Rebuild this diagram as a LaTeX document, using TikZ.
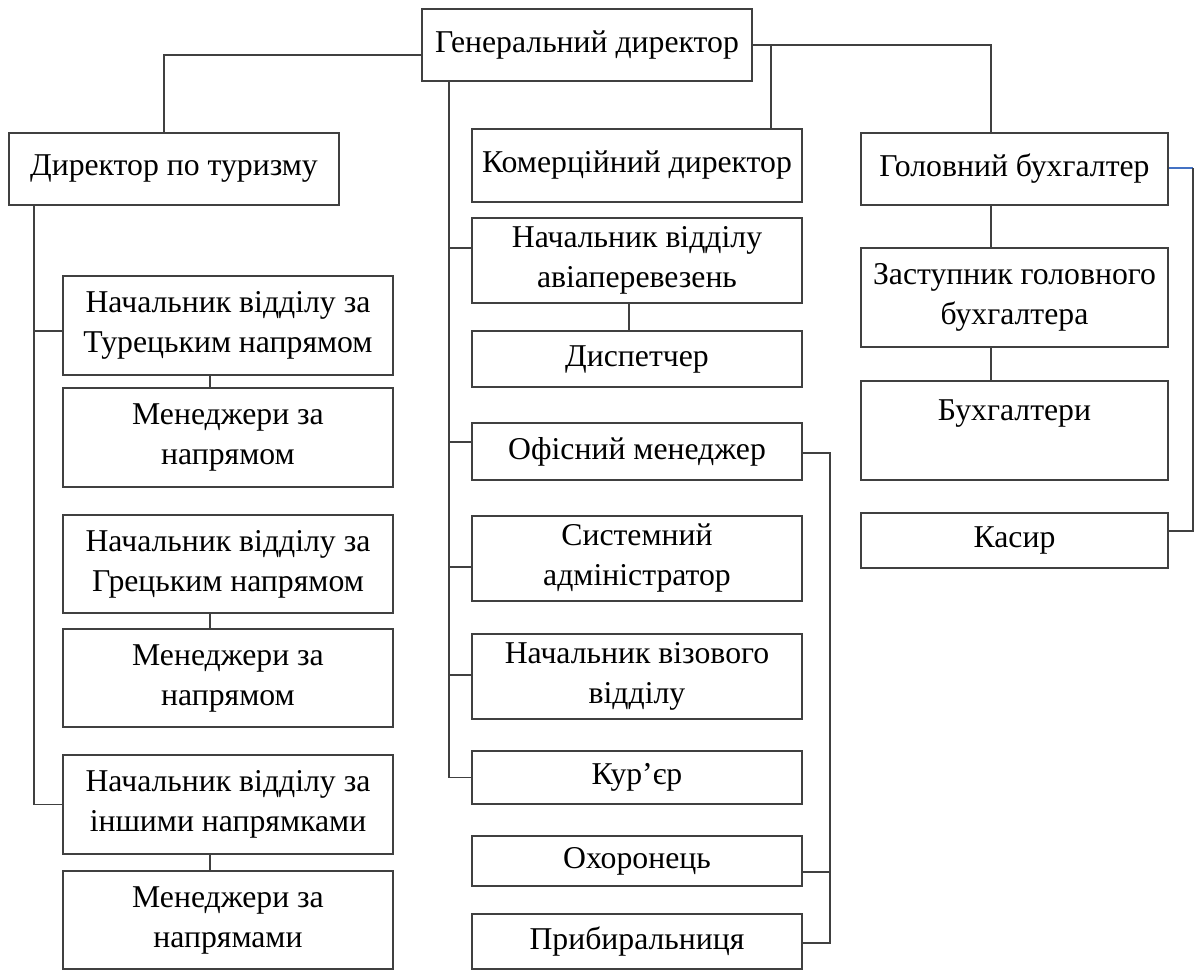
\documentclass[tikz,border=0pt]{standalone}
\usepackage{fontspec}
\setmainfont{Liberation Serif}
\definecolor{linkblue}{RGB}{68,114,196}
\begin{document}
\begin{tikzpicture}[x=0.75pt,y=-0.75pt,
  post/.style={draw=black!75, line width=1.4pt, fill=white, align=center,
    inner sep=0pt, minimum width=247.5pt, font=\fontsize{23.8}{30}\selectfont},
  acc/.style={post, minimum width=230.25pt},
  link/.style={draw=black!75, line width=1.4pt}]
\useasboundingbox (0,0) rectangle (1200,971);
% top
\node[post, minimum height=54pt] (gen) at (587,45) {Генеральний директор};
\node[post, minimum height=54pt] (tour) at (174,169) {Директор по туризму};
\node[post, minimum height=54.75pt] (kom) at (637,165.5) {Комерційний директор};
\node[acc, minimum height=54pt] (chief) at (1014.5,169) {Головний бухгалтер};
% tourism
\node[post, minimum height=74.25pt] (turk) at (228,325.5) {Начальник відділу за\\Турецьким напрямом};
\node[post, minimum height=74.25pt] (mgrA) at (228,437.5) {Менеджери за\\напрямом};
\node[post, minimum height=73.5pt] (greek) at (228,564) {Начальник відділу за\\Грецьким напрямом};
\node[post, minimum height=73.5pt] (mgrB) at (228,678) {Менеджери за\\напрямом};
\node[post, minimum height=74.25pt] (other) at (228,804.5) {Начальник відділу за\\іншими напрямками};
\node[post, minimum height=73.5pt] (mgrC) at (228,920) {Менеджери за\\напрямами};
% middle column
\node[post, minimum height=63.75pt] (avia) at (637,260.5) {Начальник відділу\\авіаперевезень};
\node[post, minimum height=42pt] (disp) at (637,359) {Диспетчер};
\node[post, minimum height=42.75pt] (office) at (637,451.5) {Офісний менеджер};
\node[post, minimum height=63.75pt] (sysadm) at (637,558.5) {Системний\\адміністратор};
\node[post, minimum height=63.75pt] (visa) at (637,676.5) {Начальник візового\\відділу};
\node[post, minimum height=39.75pt] (courier) at (637,777.5) {Кур’єр};
\node[post, minimum height=37.5pt] (guard) at (637,861) {Охоронець};
\node[post, minimum height=41.25pt] (clean) at (637,941.5) {Прибиральниця};
% accounting
\node[acc, minimum height=74.25pt] (deputy) at (1014.5,297.5) {Заступник головного\\бухгалтера};
\node[acc, minimum height=74.25pt] (accts) at (1014.5,430.5) {Бухгалтери\\~};
\node[acc, minimum height=41.25pt] (cash) at (1014.5,540.5) {Касир};

% connectors
\coordinate (gl) at (422,55);
\coordinate (gr) at (771,45);
\coordinate (tk) at (449,81);
\coordinate (lt) at (34,205);
\draw[link] (gl) -| (164,133);
\draw[link] (gen.east) -| (991,133);
\draw[link] (gr) -- (gr |- kom.north);
\draw[link] (tk) |- (courier.west);
\foreach \n/\y in {avia/248, office/442, sysadm/567, visa/675}
  \draw[link] (449,\y) -- (\n.west |- 0,\y);
\draw[link] (avia.south -| 629,0) -- (disp.north -| 629,0);
\draw[link] (lt) |- (other.west);
\draw[link] (34,331) -- (turk.west |- 0,331);
\draw[link] (turk.south -| 210,0) -- (mgrA.north -| 210,0);
\draw[link] (greek.south -| 210,0) -- (mgrB.north -| 210,0);
\draw[link] (other.south -| 210,0) -- (mgrC.north -| 210,0);
\draw[link] (chief.south -| 991,0) -- (deputy.north -| 991,0);
\draw[link] (deputy.south -| 991,0) -- (accts.north -| 991,0);
\draw[link] (office.east |- 0,453) -- (830,453) |- (clean.east |- 0,943);
\draw[link] (830,872) -- (guard.east |- 0,872);
\draw[draw=linkblue, line width=1pt] (chief.east |- 0,168) -- (1193,168);
\draw[link, line width=1pt] (1193,168) |- (cash.east |- 0,531);
\end{tikzpicture}
\end{document}
